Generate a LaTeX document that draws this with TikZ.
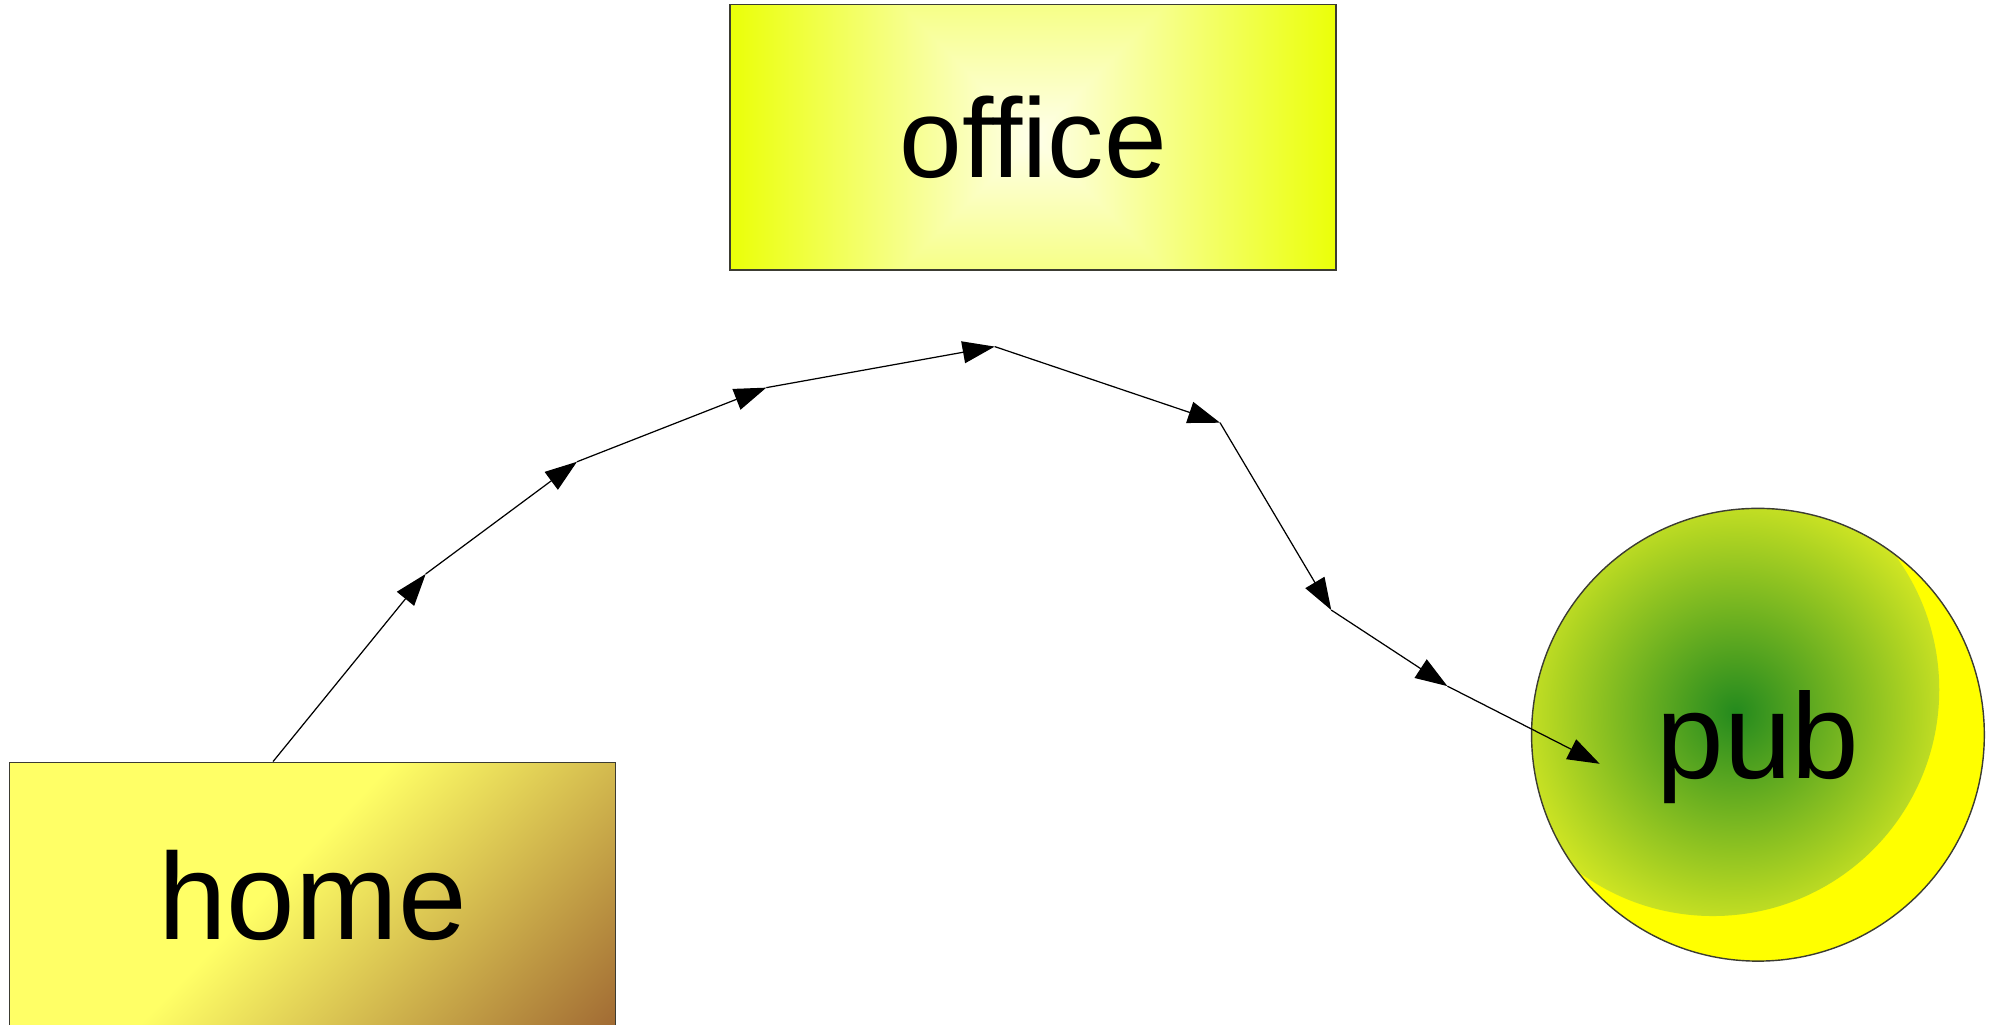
\documentclass[tikz,border=0pt]{standalone}
\usepackage{fontspec}
\setmainfont{Liberation Sans}
\usepackage{tikz}
\usetikzlibrary{arrows.meta, positioning, calc}
\definecolor{cHomeYellow}{RGB}{255,255,102}
\definecolor{cHomeBrown}{RGB}{162,108,52}
\definecolor{cPubGreen}{RGB}{36,138,30}
\definecolor{cPubEdge}{RGB}{228,240,36}
\definecolor{cPubYellow}{RGB}{255,255,0}
\definecolor{cBorder}{RGB}{60,60,50}
\pgfdeclarehorizontalshading{homeshade}{100bp}{color(0bp)=(cHomeYellow); color(46bp)=(cHomeYellow); color(85bp)=(cHomeBrown); color(100bp)=(cHomeBrown)}
\pgfdeclarefunctionalshading{officeshade}{\pgfpointorigin}{\pgfpoint{100bp}{100bp}}{}{
  50 sub abs 0.438 mul exch 50 sub abs
  2 copy lt {exch} if pop
  25 div dup 1 gt {pop 1} if
  dup 0.08 mul 1 exch sub
  exch 1 exch
  0.89 mul 0.92 exch sub
}
\tikzset{
    place/.style    ={rectangle, draw=cBorder, line width=0.4pt, minimum width=6.05cm, minimum height=2.65cm, inner sep=0pt, text centered},
    pubplace/.style ={circle, draw=cBorder, line width=0.4pt, fill=cPubYellow, minimum size=4.52cm, inner sep=0pt, text depth=0pt,
        path picture={\shade[inner color=cPubGreen, outer color=cPubEdge] ($(path picture bounding box.center)+(-0.45,0.45)$) circle (2.26cm);}},
    walkarrow/.style={-{Triangle[length=3.2mm, width=2.2mm]}, line width=0.35pt},
}
\begin{document}
\begin{tikzpicture}[every node/.style={text=black}]
    \useasboundingbox (0,0) rectangle (564bp,-290bp);
    \node[place, overlay, shade, shading=homeshade, shading angle=-44, font=\fontsize{35}{42}\selectfont] (home) at (3.12,-8.935) {home};
    \node[place, shade, shading=officeshade, font=\fontsize{32}{38}\selectfont, above right=4.9cm and 1.13cm of home] (office) {office};
    \node[pubplace, font=\fontsize{34.5}{41}\selectfont] (pub) at (17.55,-7.335) {pub};
    % the way from home to the pub
    \coordinate (w0) at ($(home.north west)!0.435!(home.north east)$);
    \coordinate (w1) at (4.25,-5.73);
    \coordinate (w2) at (5.76,-4.61);
    \coordinate (w3) at (7.65,-3.87);
    \coordinate (w4) at (9.93,-3.46);
    \coordinate (w5) at (12.18,-4.22);
    \coordinate (w6) at (13.29,-6.09);
    \coordinate (w7) at (14.45,-6.85);
    \coordinate (w8) at ($(pub.center)+(-1.58,-0.29)$);
    \foreach \a/\b in {w0/w1, w1/w2, w2/w3, w3/w4, w4/w5, w5/w6, w6/w7, w7/w8}
        \draw[walkarrow] (\a) -- (\b);
\end{tikzpicture}
\end{document}
